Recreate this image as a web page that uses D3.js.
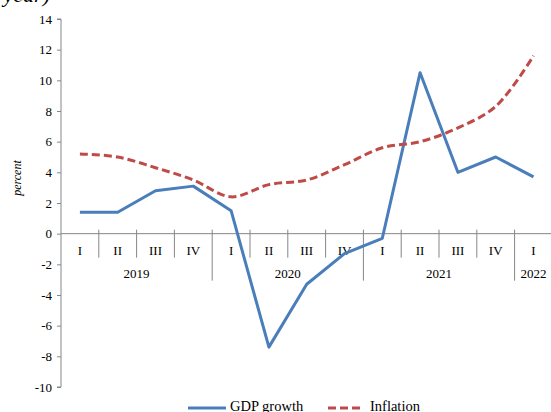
<!DOCTYPE html>
<html><head><meta charset="utf-8">
<script src="https://cdn.jsdelivr.net/npm/d3@7"></script>
<style>body{margin:0;background:#fff;overflow:hidden}svg{display:block}</style>
</head><body>
<svg id="c" width="551" height="412"></svg>
<script>
const quarters = ["I","II","III","IV","I","II","III","IV","I","II","III","IV","I"];
const years = ["2019","2020","2021","2022"];
const yearQuarterCounts = [4,4,4,1];
const gdp = [1.4,1.4,2.8,3.1,1.5,-7.4,-3.3,-1.3,-0.3,10.5,4.0,5.0,3.7];
const inflation = [5.2,5.0,4.3,3.5,2.4,3.2,3.5,4.5,5.6,6.0,6.9,8.3,11.6];
const yTicks = [-10,-8,-6,-4,-2,0,2,4,6,8,10,12,14];

(function(){
const svg = d3.select("#c");
const font = "'Liberation Serif','Times New Roman',serif";
const mLeft = 61, bandW = 37.8, mTop = 19, mBottom = 387;
const x = d3.scaleBand().domain(d3.range(quarters.length)).range([mLeft, mLeft + bandW*quarters.length]).padding(0);
const y = d3.scaleLinear().domain([-10,14]).range([mBottom, mTop]);
const cx = i => x(i) + x.bandwidth()/2;
const axisColor = "#868686";

// title fragment (cut off at top)
svg.append("text").attr("x",50).attr("y",2).attr("text-anchor","end")
  .attr("font-family",font).attr("font-style","italic").attr("font-size",22).attr("fill","#000").text("year)");

// y axis
const ya = svg.append("g").attr("transform",`translate(${mLeft},0)`)
  .call(d3.axisLeft(y).tickValues(yTicks).tickSize(4).tickPadding(5).tickFormat(d => String(d)));
ya.selectAll("path,line").attr("stroke",axisColor);
ya.selectAll("text").attr("font-family",font).attr("font-size",13).attr("fill","#000");
ya.select(".domain").attr("d",`M-4,${mTop}H0V${mBottom}H-4`);

// y label
svg.append("text").attr("transform",`translate(21,178) rotate(-90)`).attr("text-anchor","middle")
  .attr("font-family",font).attr("font-style","italic").attr("font-size",12).text("percent");

// x axis at zero
const y0 = y(0);
const xg = svg.append("g");
xg.append("line").attr("x1",mLeft).attr("x2",x.range()[1]).attr("y1",y0).attr("y2",y0).attr("stroke",axisColor).attr("stroke-width",1);
const boundaries = d3.range(1, quarters.length);
let yearStarts = [], acc = 0;
yearQuarterCounts.forEach(n => { acc += n; yearStarts.push(acc); });
xg.selectAll("line.q").data(boundaries).join("line").attr("class","q")
  .attr("x1",i=>x(i)).attr("x2",i=>x(i)).attr("y1",y0-4)
  .attr("y2",i=> yearStarts.includes(i) ? y0+47 : y0+24)
  .attr("stroke",axisColor);
xg.selectAll("text.q").data(quarters).join("text").attr("class","q")
  .attr("x",(d,i)=>cx(i)).attr("y",y0+21).attr("text-anchor","middle")
  .attr("font-family",font).attr("font-size",13).text(d=>d);
let start = 0;
years.forEach((yr,k)=>{
  const n = yearQuarterCounts[k];
  const mid = x(start) + n*x.bandwidth()/2;
  xg.append("text").attr("x",mid).attr("y",y0+44).attr("text-anchor","middle")
    .attr("font-family",font).attr("font-size",13).text(yr);
  start += n;
});

// lines
const line = d3.line().x((d,i)=>cx(i)).y(d=>y(d));
svg.append("path").datum(gdp).attr("d",line).attr("fill","none")
  .attr("stroke","#4a7ebb").attr("stroke-width",3).attr("stroke-linejoin","round");
svg.append("path").datum(inflation).attr("d",line.curve(d3.curveCatmullRom.alpha(0.5))).attr("fill","none")
  .attr("stroke","#be4b48").attr("stroke-width",3).attr("stroke-dasharray","8,4");

// legend
const lg = svg.append("g");
lg.append("line").attr("x1",188).attr("x2",226).attr("y1",408).attr("y2",408).attr("stroke","#4a7ebb").attr("stroke-width",3);
lg.append("text").attr("x",230).attr("y",411).attr("font-family",font).attr("font-size",14.5).text("GDP growth");
lg.append("line").attr("x1",328).attr("x2",364).attr("y1",408).attr("y2",408).attr("stroke","#be4b48").attr("stroke-width",3).attr("stroke-dasharray","8,4");
lg.append("text").attr("x",370).attr("y",411).attr("font-family",font).attr("font-size",14.5).text("Inflation");
})();
</script>
</body></html>
